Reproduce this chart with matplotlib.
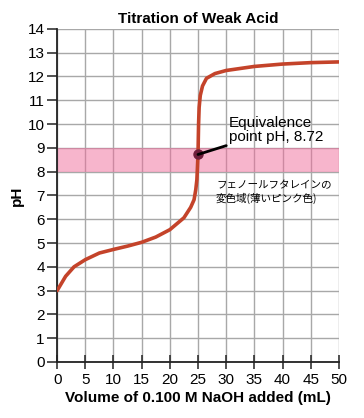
import matplotlib.pyplot as plt

plt.rcParams['font.family'] = ['Liberation Sans', 'DejaVu Sans']

# titration curve
volume = [0, 1.5, 3, 5, 7.5, 10, 12.5, 15, 17.5, 20, 22.5, 23.7, 24.3, 24.6, 24.8,
          25.0, 25.1, 25.2, 25.4, 25.8, 26.5, 28, 30, 35, 40, 45, 50]
ph = [3.0, 3.6, 4.0, 4.3, 4.58, 4.73, 4.87, 5.03, 5.25, 5.56, 6.06, 6.5, 6.82, 7.24, 7.66,
      8.72, 10.0, 10.7, 11.2, 11.6, 11.92, 12.12, 12.25, 12.42, 12.52, 12.58, 12.61]

equiv_volume = 25.0
equiv_ph = 8.72
indicator_range = (8, 9)

x_ticks = list(range(0, 51, 5))
y_ticks = list(range(0, 15))

fig = plt.figure(figsize=(3.64, 4.18), dpi=100)
ax = fig.add_axes([0.157, 0.134, 0.774, 0.797])

ax.axhspan(indicator_range[0], indicator_range[1], color='#f06c9b', alpha=0.5, lw=0, zorder=1)
ax.plot(volume, ph, color='#c4432a', lw=2.6, solid_joinstyle='round',
        solid_capstyle='round', zorder=3)
ax.plot([equiv_volume], [equiv_ph], 'o', color='#6e1f3b', ms=6.5, zorder=4)

ax.annotate('Equivalence\npoint pH, 8.72', xy=(equiv_volume, equiv_ph),
            xytext=(30.5, 9.75), fontsize=11, va='center', ha='left',
            linespacing=1.0,
            arrowprops=dict(arrowstyle='-', color='black', lw=2, shrinkA=0, shrinkB=0),
            zorder=5)
ax.text(28.2, 7.15, 'フェノールフタレインの\n変色域(薄いピンク色)', fontsize=7.6,
        family=['Noto Sans CJK JP', 'DejaVu Sans'], va='center', ha='left',
        linespacing=1.3, zorder=5)

ax.set_xlim(0, 50)
ax.set_ylim(0, 14)
ax.set_xticks(x_ticks)
ax.set_yticks(y_ticks)
ax.grid(True, color='#a8a8a8', lw=1, zorder=0)
ax.set_axisbelow(True)
for side in ('top', 'right'):
    ax.spines[side].set_visible(False)
for side in ('left', 'bottom'):
    ax.spines[side].set_linewidth(1.3)
    ax.spines[side].set_color('#222222')
ax.tick_params(axis='both', labelsize=11, length=7, width=1.1, color='#222222')
ax.tick_params(axis='x', direction='inout', length=10, pad=3)
ax.tick_params(axis='y', pad=2)

ax.set_title('Titration of Weak Acid', fontsize=11, fontweight='bold', pad=4)
ax.set_xlabel('Volume of 0.100 M NaOH added (mL)', fontsize=11, fontweight='bold', labelpad=3)
ax.set_ylabel('pH', fontsize=11, fontweight='bold', labelpad=3)

fig.savefig('out.png', dpi=100)
